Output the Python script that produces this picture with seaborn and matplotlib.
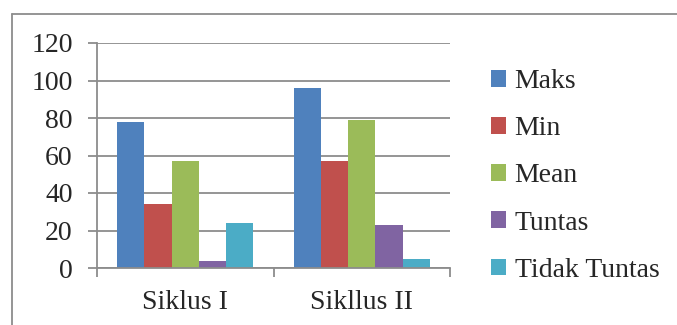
import pandas as pd
import matplotlib
matplotlib.use('Agg')
import matplotlib.pyplot as plt
import seaborn as sns
from matplotlib.patches import Patch
from matplotlib.lines import Line2D

# data
kategori = ['Siklus I', 'Sikllus II']
seri = ['Maks', 'Min', 'Mean', 'Tuntas', 'Tidak Tuntas']
nilai_siklus1 = [78, 34, 57, 4, 24]
nilai_siklus2 = [96, 57, 79, 23, 5]
yticks = [0, 20, 40, 60, 80, 100, 120]
warna = ['#4F81BD', '#C0504D', '#9BBB59', '#8064A2', '#4BACC6']

rows = []
for k, vals in zip(kategori, [nilai_siklus1, nilai_siklus2]):
    for s, v in zip(seri, vals):
        rows.append({'Siklus': k, 'Seri': s, 'Nilai': v})
df = pd.DataFrame(rows)

sns.set_style('white')
plt.rcParams['font.family'] = ['Liberation Serif', 'DejaVu Serif']

fig = plt.figure(figsize=(6.77, 3.25), dpi=100)
ax = fig.add_axes([97/677, 1-268/325, (450-97)/677, (268-43)/325])

sns.barplot(data=df, x='Siklus', y='Nilai', hue='Seri', palette=warna,
            width=0.77, gap=0, linewidth=0, saturation=1, ax=ax, legend=False)

grid_c = '#8C8C8C'
ax.set_ylim(0, 120)
ax.set_xlim(-0.5, 1.5)
ax.set_yticks(yticks)
ax.yaxis.grid(True, color=grid_c, linewidth=1.3)
ax.set_axisbelow(True)
ax.set_xlabel('')
ax.set_ylabel('')
for sp in ['top', 'right']:
    ax.spines[sp].set_visible(False)
for sp in ['left', 'bottom']:
    ax.spines[sp].set_color(grid_c)
    ax.spines[sp].set_linewidth(1.3)

ax.tick_params(axis='y', length=6.5, width=1.3, color=grid_c, pad=11, labelsize=20, direction='out', left=True)
ax.tick_params(axis='x', which='major', length=0, pad=16, labelsize=20)
ax.set_xticks([-0.5, 0.5, 1.5], minor=True)
ax.tick_params(axis='x', which='minor', length=6.5, width=1.3, color=grid_c, direction='out', bottom=True)

handles = [Patch(facecolor=c, edgecolor='none') for c in warna]
fig.legend(handles, seri, loc='upper left', bbox_to_anchor=(491/677, 1-69/325),
           frameon=False, fontsize=20, handlelength=0.55, handleheight=0.55,
           handletextpad=0.3, labelspacing=0.8, borderaxespad=0, borderpad=0)

# chart border
fig.add_artist(Line2D([12/677, 12/677], [0, 1-14/325], transform=fig.transFigure, color='#8C8C8C', linewidth=1.3))
fig.add_artist(Line2D([12/677, 1], [1-14/325, 1-14/325], transform=fig.transFigure, color='#8C8C8C', linewidth=1.3))

fig.savefig('out.png', dpi=100)
